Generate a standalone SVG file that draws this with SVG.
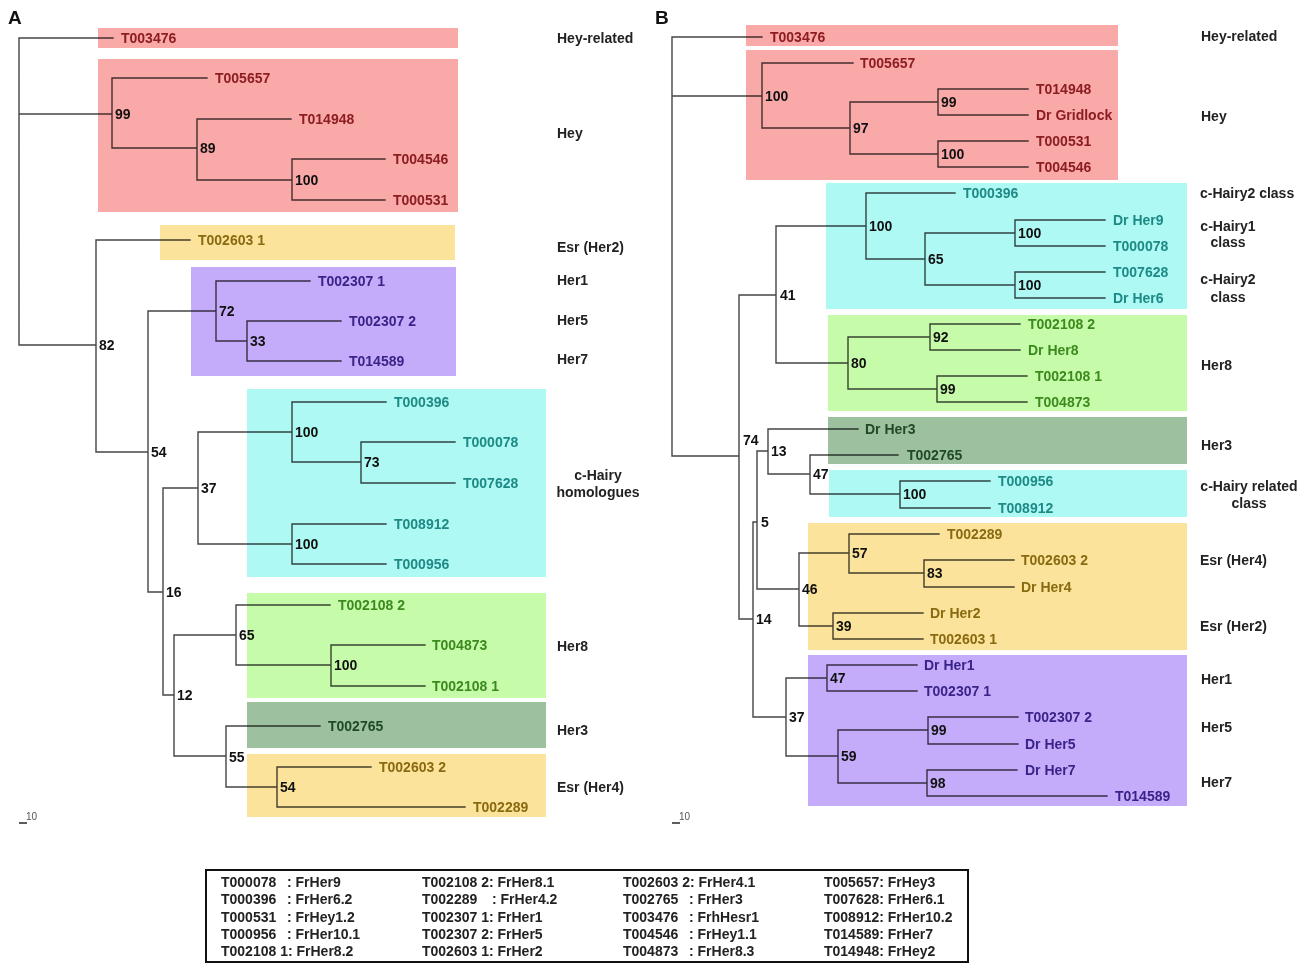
<svg xmlns="http://www.w3.org/2000/svg" width="1309" height="963" viewBox="0 0 1309 963">
<style>
text{font-family:"Liberation Sans",Arial,sans-serif;font-weight:bold;font-size:14px}
.ln{fill:none;stroke:#454545;stroke-width:1.4;stroke-linecap:square}
.box{mix-blend-mode:multiply}
.pink{fill:#faa9a9}.yel{fill:#fbe39b}.pur{fill:#c4acfa}.cya{fill:#aef9f3}.grn{fill:#c6fbaa}.dgr{fill:#9dc09e}
.tp{fill:#8c1d22}.ty{fill:#8a6a10}.tu{fill:#3a2388}.tc{fill:#1d8a86}.tg{fill:#3c8a1e}.td{fill:#1f4a25}
.bs{fill:#111}.gl{fill:#222}.mid{text-anchor:middle}
.pan{font-size:19px;fill:#111}
.sc{font-weight:normal;font-size:10px;fill:#555}
</style>
<rect width="1309" height="963" fill="#fff"/>

<g id="connectors">
<g id="connectors-A">
<path class="ln" d="M19 38V345M19 38H113M19 114H112M112 78V148M112 78H207M112 148H197M197 119V180M197 119H291M197 180H292M292 159V200M292 159H385M292 200H385
M19 345H96M96 240V452M96 240H190M96 452H148M148 311V592M148 311H216M216 281V341M216 281H310M216 341H247M247 321V361M247 321H341M247 361H341
M148 592H163M163 488V695M163 488H198M198 432V544M198 432H292M292 402V462M292 402H386M292 462H361M361 442V483M361 442H455M361 483H455
M198 544H292M292 524V564M292 524H386M292 564H386
M163 695H174M174 635V756M174 635H236M236 605V665M236 605H330M236 665H331M331 645V686M331 645H425M331 686H425
M174 756H226M226 726V787M226 726H320M226 787H277M277 767V807M277 767H371M277 807H465"/>
</g>
<g id="connectors-B">
<path class="ln" d="M672 37V456M672 37H762M672 96H762M762 63V128M762 63H853M762 128H850M850 102V154M850 102H938M938 89V115M938 89H1028M938 115H1028M850 154H938M938 141V167M938 141H1028M938 167H1028
M672 456H739M739 295V619M739 295H776M776 226V363M776 226H866M866 193V259M866 193H955M866 259H925M925 233V285M925 233H1015M1015 220V246M1015 220H1105M1015 246H1105M925 285H1015M1015 272V298M1015 272H1105M1015 298H1105
M776 363H848M848 337V389M848 337H930M930 324V350M930 324H1020M930 350H1020M848 389H937M937 376V402M937 376H1027M937 402H1027
M739 619H753M753 522V717M753 522H757M757 451V589M757 451H768M768 429V474M768 429H858M768 474H810M810 455V494M810 455H898M810 494H900M900 481V508M900 481H990M900 508H990
M757 589H799M799 553V626M799 553H849M849 534V573M849 534H939M849 573H924M924 560V587M924 560H1014M924 587H1014M799 626H833M833 613V639M833 613H923M833 639H923
M753 717H786M786 678V756M786 678H827M827 665V691M827 665H917M827 691H917M786 756H838M838 730V783M838 730H928M928 717V744M928 717H1018M928 744H1018M838 783H927M927 770V796M927 770H1017M927 796H1107"/>
</g>
</g>

<g id="boxes-A">
<g id="A-box-hey-related"><rect class="box pink" x="98" y="28" width="360" height="20"/></g>
<g id="A-box-hey"><rect class="box pink" x="98" y="59" width="360" height="153"/></g>
<g id="A-box-esr-her2"><rect class="box yel" x="160" y="225" width="295" height="35"/></g>
<g id="A-box-her157"><rect class="box pur" x="191" y="267" width="265" height="109"/></g>
<g id="A-box-chairy"><rect class="box cya" x="247" y="389" width="299" height="188"/></g>
<g id="A-box-her8"><rect class="box grn" x="247" y="593" width="299" height="105"/></g>
<g id="A-box-her3"><rect class="box dgr" x="247" y="702" width="299" height="46"/></g>
<g id="A-box-esr-her4"><rect class="box yel" x="247" y="754" width="299" height="63"/></g>
</g>

<g id="boxes-B">
<g id="B-box-hey-related"><rect class="box pink" x="746" y="25" width="372" height="21"/></g>
<g id="B-box-hey"><rect class="box pink" x="746" y="50" width="372" height="130"/></g>
<g id="B-box-chairy"><rect class="box cya" x="826" y="183" width="361" height="126"/></g>
<g id="B-box-her8"><rect class="box grn" x="828" y="315" width="359" height="96"/></g>
<g id="B-box-her3"><rect class="box dgr" x="828" y="417" width="359" height="47"/></g>
<g id="B-box-chairy-related"><rect class="box cya" x="829" y="470" width="358" height="47"/></g>
<g id="B-box-esr"><rect class="box yel" x="808" y="523" width="379" height="127"/></g>
<g id="B-box-her157"><rect class="box pur" x="808" y="655" width="379" height="151"/></g>
</g>

<g id="panel-labels">
<text class="pan" x="8" y="24">A</text>
<text class="pan" x="655" y="24">B</text>
</g>

<g id="leaves-A">
<g id="A-T003476"><text class="tp" x="121" y="43">T003476</text></g>
<g id="A-T005657"><text class="tp" x="215" y="83">T005657</text></g>
<g id="A-T014948"><text class="tp" x="299" y="124">T014948</text></g>
<g id="A-T004546"><text class="tp" x="393" y="164">T004546</text></g>
<g id="A-T000531"><text class="tp" x="393" y="205">T000531</text></g>
<g id="A-T002603-1"><text class="ty" x="198" y="245">T002603 1</text></g>
<g id="A-T002307-1"><text class="tu" x="318" y="286">T002307 1</text></g>
<g id="A-T002307-2"><text class="tu" x="349" y="326">T002307 2</text></g>
<g id="A-T014589"><text class="tu" x="349" y="366">T014589</text></g>
<g id="A-T000396"><text class="tc" x="394" y="407">T000396</text></g>
<g id="A-T000078"><text class="tc" x="463" y="447">T000078</text></g>
<g id="A-T007628"><text class="tc" x="463" y="488">T007628</text></g>
<g id="A-T008912"><text class="tc" x="394" y="529">T008912</text></g>
<g id="A-T000956"><text class="tc" x="394" y="569">T000956</text></g>
<g id="A-T002108-2"><text class="tg" x="338" y="610">T002108 2</text></g>
<g id="A-T004873"><text class="tg" x="432" y="650">T004873</text></g>
<g id="A-T002108-1"><text class="tg" x="432" y="691">T002108 1</text></g>
<g id="A-T002765"><text class="td" x="328" y="731">T002765</text></g>
<g id="A-T002603-2"><text class="ty" x="379" y="772">T002603 2</text></g>
<g id="A-T002289"><text class="ty" x="473" y="812">T002289</text></g>
</g>

<g id="bootstrap-A">
<text class="bs" x="115" y="119">99</text>
<text class="bs" x="200" y="153">89</text>
<text class="bs" x="295" y="185">100</text>
<text class="bs" x="99" y="350">82</text>
<text class="bs" x="151" y="457">54</text>
<text class="bs" x="219" y="316">72</text>
<text class="bs" x="250" y="346">33</text>
<text class="bs" x="166" y="597">16</text>
<text class="bs" x="201" y="493">37</text>
<text class="bs" x="295" y="437">100</text>
<text class="bs" x="364" y="467">73</text>
<text class="bs" x="295" y="549">100</text>
<text class="bs" x="177" y="700">12</text>
<text class="bs" x="239" y="640">65</text>
<text class="bs" x="334" y="670">100</text>
<text class="bs" x="229" y="762">55</text>
<text class="bs" x="280" y="792">54</text>
</g>

<g id="groups-A">
<text class="gl" x="557" y="43">Hey-related</text>
<text class="gl" x="557" y="138">Hey</text>
<text class="gl" x="557" y="252">Esr (Her2)</text>
<text class="gl" x="557" y="285">Her1</text>
<text class="gl" x="557" y="325">Her5</text>
<text class="gl" x="557" y="364">Her7</text>
<text class="gl mid" x="598" y="480">c-Hairy</text>
<text class="gl mid" x="598" y="497">homologues</text>
<text class="gl" x="557" y="651">Her8</text>
<text class="gl" x="557" y="735">Her3</text>
<text class="gl" x="557" y="792">Esr (Her4)</text>
</g>

<g id="leaves-B">
<g id="B-T003476"><text class="tp" x="770" y="42">T003476</text></g>
<g id="B-T005657"><text class="tp" x="860" y="68">T005657</text></g>
<g id="B-T014948"><text class="tp" x="1036" y="94">T014948</text></g>
<g id="B-DrGridlock"><text class="tp" x="1036" y="120">Dr Gridlock</text></g>
<g id="B-T000531"><text class="tp" x="1036" y="146">T000531</text></g>
<g id="B-T004546"><text class="tp" x="1036" y="172">T004546</text></g>
<g id="B-T000396"><text class="tc" x="963" y="198">T000396</text></g>
<g id="B-DrHer9"><text class="tc" x="1113" y="225">Dr Her9</text></g>
<g id="B-T000078"><text class="tc" x="1113" y="251">T000078</text></g>
<g id="B-T007628"><text class="tc" x="1113" y="277">T007628</text></g>
<g id="B-DrHer6"><text class="tc" x="1113" y="303">Dr Her6</text></g>
<g id="B-T002108-2"><text class="tg" x="1028" y="329">T002108 2</text></g>
<g id="B-DrHer8"><text class="tg" x="1028" y="355">Dr Her8</text></g>
<g id="B-T002108-1"><text class="tg" x="1035" y="381">T002108 1</text></g>
<g id="B-T004873"><text class="tg" x="1035" y="407">T004873</text></g>
<g id="B-DrHer3"><text class="td" x="865" y="434">Dr Her3</text></g>
<g id="B-T002765"><text class="td" x="907" y="460">T002765</text></g>
<g id="B-T000956"><text class="tc" x="998" y="486">T000956</text></g>
<g id="B-T008912"><text class="tc" x="998" y="513">T008912</text></g>
<g id="B-T002289"><text class="ty" x="947" y="539">T002289</text></g>
<g id="B-T002603-2"><text class="ty" x="1021" y="565">T002603 2</text></g>
<g id="B-DrHer4"><text class="ty" x="1021" y="592">Dr Her4</text></g>
<g id="B-DrHer2"><text class="ty" x="930" y="618">Dr Her2</text></g>
<g id="B-T002603-1"><text class="ty" x="930" y="644">T002603 1</text></g>
<g id="B-DrHer1"><text class="tu" x="924" y="670">Dr Her1</text></g>
<g id="B-T002307-1"><text class="tu" x="924" y="696">T002307 1</text></g>
<g id="B-T002307-2"><text class="tu" x="1025" y="722">T002307 2</text></g>
<g id="B-DrHer5"><text class="tu" x="1025" y="749">Dr Her5</text></g>
<g id="B-DrHer7"><text class="tu" x="1025" y="775">Dr Her7</text></g>
<g id="B-T014589"><text class="tu" x="1115" y="801">T014589</text></g>
</g>

<g id="bootstrap-B">
<text class="bs" x="765" y="101">100</text>
<text class="bs" x="853" y="133">97</text>
<text class="bs" x="941" y="107">99</text>
<text class="bs" x="941" y="159">100</text>
<text class="bs" x="780" y="300">41</text>
<text class="bs" x="869" y="231">100</text>
<text class="bs" x="928" y="264">65</text>
<text class="bs" x="1018" y="238">100</text>
<text class="bs" x="1018" y="290">100</text>
<text class="bs" x="851" y="368">80</text>
<text class="bs" x="933" y="342">92</text>
<text class="bs" x="940" y="394">99</text>
<text class="bs" x="743" y="445">74</text>
<text class="bs" x="771" y="456">13</text>
<text class="bs" x="813" y="479">47</text>
<text class="bs" x="903" y="499">100</text>
<text class="bs" x="761" y="527">5</text>
<text class="bs" x="802" y="594">46</text>
<text class="bs" x="852" y="558">57</text>
<text class="bs" x="927" y="578">83</text>
<text class="bs" x="836" y="631">39</text>
<text class="bs" x="756" y="624">14</text>
<text class="bs" x="830" y="683">47</text>
<text class="bs" x="789" y="722">37</text>
<text class="bs" x="841" y="761">59</text>
<text class="bs" x="931" y="735">99</text>
<text class="bs" x="930" y="788">98</text>
</g>

<g id="groups-B">
<text class="gl" x="1201" y="41">Hey-related</text>
<text class="gl" x="1201" y="121">Hey</text>
<text class="gl" x="1200" y="198">c-Hairy2 class</text>
<text class="gl mid" x="1228" y="231">c-Hairy1</text>
<text class="gl mid" x="1228" y="247">class</text>
<text class="gl mid" x="1228" y="284">c-Hairy2</text>
<text class="gl mid" x="1228" y="302">class</text>
<text class="gl" x="1201" y="370">Her8</text>
<text class="gl" x="1201" y="450">Her3</text>
<text class="gl mid" x="1249" y="491">c-Hairy related</text>
<text class="gl mid" x="1249" y="508">class</text>
<text class="gl" x="1200" y="565">Esr (Her4)</text>
<text class="gl" x="1200" y="631">Esr (Her2)</text>
<text class="gl" x="1201" y="684">Her1</text>
<text class="gl" x="1201" y="732">Her5</text>
<text class="gl" x="1201" y="787">Her7</text>
</g>

<g id="scalebars">
<line x1="19" y1="823" x2="27" y2="823" stroke="#333" stroke-width="1.6"/>
<text class="sc" x="26" y="820">10</text>
<line x1="672" y1="823" x2="680" y2="823" stroke="#333" stroke-width="1.6"/>
<text class="sc" x="679" y="820">10</text>
</g>

<g id="legend">
<rect x="206" y="870" width="762" height="92" fill="#fff" stroke="#111" stroke-width="2"/>
<text class="gl" x="221" y="887">T000078</text><text class="gl" x="287" y="887">: FrHer9</text>
<text class="gl" x="221" y="904">T000396</text><text class="gl" x="287" y="904">: FrHer6.2</text>
<text class="gl" x="221" y="922">T000531</text><text class="gl" x="287" y="922">: FrHey1.2</text>
<text class="gl" x="221" y="939">T000956</text><text class="gl" x="287" y="939">: FrHer10.1</text>
<text class="gl" x="221" y="956">T002108 1: FrHer8.2</text>
<text class="gl" x="422" y="887">T002108 2: FrHer8.1</text>
<text class="gl" x="422" y="904">T002289</text><text class="gl" x="492" y="904">: FrHer4.2</text>
<text class="gl" x="422" y="922">T002307 1: FrHer1</text>
<text class="gl" x="422" y="939">T002307 2: FrHer5</text>
<text class="gl" x="422" y="956">T002603 1: FrHer2</text>
<text class="gl" x="623" y="887">T002603 2: FrHer4.1</text>
<text class="gl" x="623" y="904">T002765</text><text class="gl" x="689" y="904">: FrHer3</text>
<text class="gl" x="623" y="922">T003476</text><text class="gl" x="689" y="922">: FrhHesr1</text>
<text class="gl" x="623" y="939">T004546</text><text class="gl" x="689" y="939">: FrHey1.1</text>
<text class="gl" x="623" y="956">T004873</text><text class="gl" x="689" y="956">: FrHer8.3</text>
<text class="gl" x="824" y="887">T005657: FrHey3</text>
<text class="gl" x="824" y="904">T007628: FrHer6.1</text>
<text class="gl" x="824" y="922">T008912: FrHer10.2</text>
<text class="gl" x="824" y="939">T014589: FrHer7</text>
<text class="gl" x="824" y="956">T014948: FrHey2</text>
</g>
</svg>
